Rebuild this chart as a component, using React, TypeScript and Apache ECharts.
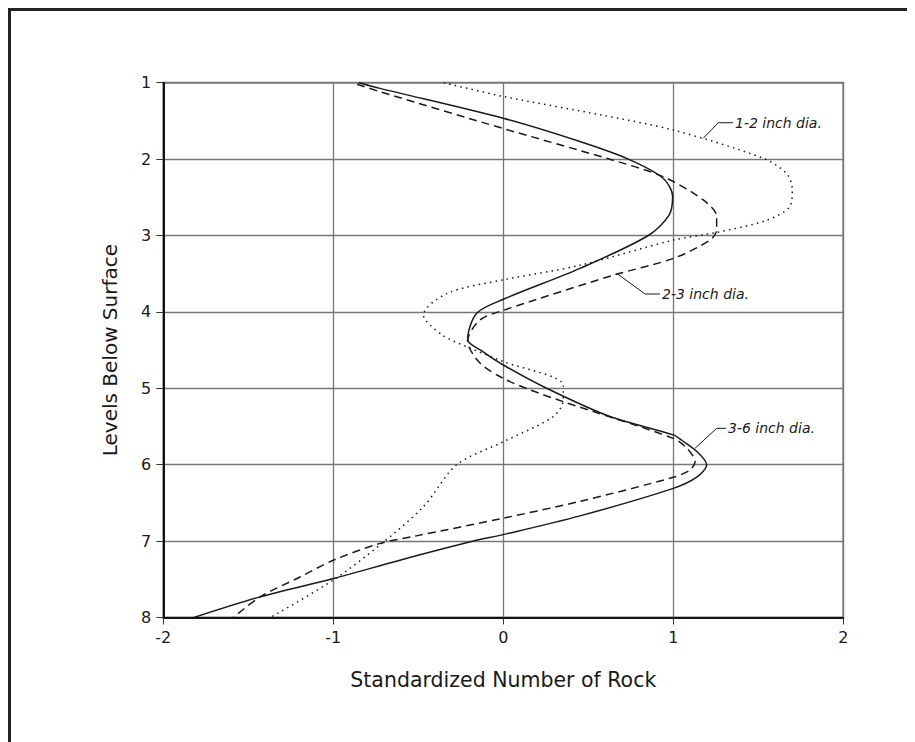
import React, { useEffect, useRef } from "react";
import * as echarts from "echarts";

// Each point: [standardized number of rock, level below surface]
const rock12: number[][] = [
  [-0.35, 1.0], [0, 1.18], [0.569, 1.42], [1.0, 1.62], [1.53, 1.99], [1.667, 2.19],
  [1.7, 2.4], [1.686, 2.62], [1.55, 2.8], [1.255, 2.96], [1.0, 3.06], [0.451, 3.39],
  [0, 3.58], [-0.333, 3.76], [-0.47, 4.04], [-0.36, 4.3], [-0.2, 4.47], [0, 4.65],
  [0.353, 4.96], [0.353, 5.15], [0.294, 5.37], [0, 5.7], [-0.274, 6.0], [-0.47, 6.55],
  [-0.725, 7.05], [-1.0, 7.51], [-1.37, 8.0],
];
const rock23: number[][] = [
  [-0.86, 1.02], [-0.725, 1.118], [0, 1.6], [0.608, 1.99], [0.94, 2.23], [1.176, 2.535],
  [1.255, 2.75], [1.255, 2.93], [1.216, 3.06], [1.0, 3.3], [0.647, 3.52], [0, 3.98],
  [-0.137, 4.106], [-0.21, 4.38], [-0.137, 4.67], [0, 4.87], [0.157, 5.02], [0.353, 5.175],
  [1.0, 5.655], [1.08, 5.785], [1.128, 5.96], [1.098, 6.07], [1.0, 6.165], [0.451, 6.48],
  [0, 6.7], [-0.53, 6.94], [-0.725, 7.03], [-1.0, 7.25], [-1.196, 7.47], [-1.43, 7.73],
  [-1.588, 8.0],
];
const rock36: number[][] = [
  [-0.85, 1.0], [-0.725, 1.074], [0, 1.466], [0.45, 1.77], [0.735, 2.0], [0.94, 2.25],
  [0.996, 2.49], [0.976, 2.73], [0.853, 3.0], [0.451, 3.43], [0, 3.835], [-0.157, 4.018],
  [-0.21, 4.36], [-0.12, 4.52], [0, 4.695], [0.255, 5.0], [0.627, 5.37], [1.0, 5.61],
  [1.05, 5.68], [1.14, 5.83], [1.196, 6.0], [1.14, 6.16], [1.0, 6.31], [0.451, 6.67],
  [0, 6.915], [-0.176, 7.0], [-0.608, 7.25], [-1.0, 7.49], [-1.43, 7.73], [-1.82, 8.0],
];

const seriesNames = ["1-2 inch dia.", "2-3 inch dia.", "3-6 inch dia."];

// Leader lines for the annotations (data coordinates)
const leader12: number[][] = [[1.176, 1.728], [1.265, 1.524], [1.351, 1.524]];
const leader23: number[][] = [[0.667, 3.495], [0.834, 3.766], [0.922, 3.766]];
const leader36: number[][] = [[1.128, 5.785], [1.255, 5.524], [1.31, 5.524]];

const xAxisTitle = "Standardized Number of Rock";
const yAxisTitle = "Levels Below Surface";

const FONT = "DejaVu Sans";
const INK = "#1a1a1a";

export default function App() {
  const ref = useRef<HTMLDivElement>(null);

  useEffect(() => {
    document.documentElement.style.overflow = "hidden";
    document.body.style.overflow = "hidden";
    if (!ref.current) return;
    const chart = echarts.init(ref.current, undefined, { renderer: "svg" });

    const curve = (name: string, data: number[][], type: any) => ({
      name,
      type: "line",
      data,
      smooth: 0.3,
      showSymbol: false,
      symbol: "none",
      lineStyle: { color: INK, width: 1.5, type },
      z: 3,
    });

    const leader = (label: string, data: number[][]) => ({
      name: label + " leader",
      type: "line",
      data,
      smooth: false,
      showSymbol: false,
      symbol: "none",
      lineStyle: { color: INK, width: 1, type: "solid" },
      endLabel: {
        show: true,
        formatter: label,
        distance: 2,
        fontFamily: FONT,
        fontStyle: "italic",
        fontSize: 14,
        color: INK,
      },
      z: 4,
    });

    chart.setOption({
      animation: false,
      grid: {
        left: 152.3,
        right: 63.7,
        top: 71.7,
        bottom: 116.5,
        show: true,
        borderColor: "#444",
        borderWidth: 1.5,
      },
      xAxis: {
        type: "value",
        min: -2,
        max: 2,
        interval: 1,
        name: xAxisTitle,
        nameLocation: "middle",
        nameGap: 52,
        nameTextStyle: { fontFamily: FONT, fontSize: 20.5, color: INK },
        axisLine: { show: true, onZero: false, lineStyle: { color: "#111", width: 2 } },
        axisTick: { show: true, length: 7, lineStyle: { color: "#333", width: 1 } },
        axisLabel: { margin: 12, fontFamily: FONT, fontSize: 16, color: INK },
        splitLine: { show: true, lineStyle: { color: "#777", width: 1.3 } },
      },
      yAxis: {
        type: "value",
        inverse: true,
        min: 1,
        max: 8,
        interval: 1,
        name: yAxisTitle,
        nameLocation: "middle",
        nameRotate: 90,
        nameGap: 43,
        nameTextStyle: { fontFamily: FONT, fontSize: 20, color: INK },
        axisLine: { show: true, onZero: false, lineStyle: { color: "#111", width: 2 } },
        axisTick: { show: true, length: 7, lineStyle: { color: "#333", width: 1 } },
        axisLabel: { margin: 12, fontFamily: FONT, fontSize: 16, color: INK },
        splitLine: { show: true, lineStyle: { color: "#777", width: 1.3 } },
      },
      series: [
        curve(seriesNames[0], rock12, [1.5, 4.2]),
        curve(seriesNames[1], rock23, [8, 5]),
        curve(seriesNames[2], rock36, "solid"),
        leader(seriesNames[0], leader12),
        leader(seriesNames[1], leader23),
        leader(seriesNames[2], leader36),
      ],
    });

    return () => chart.dispose();
  }, []);

  return (
    <div
      style={{
        width: 1000,
        height: 900,
        boxSizing: "border-box",
        borderTop: "3px solid #222",
        borderLeft: "3px solid #222",
        background: "#fff",
      }}
    >
      <div ref={ref} style={{ width: 896, height: 723 }} />
    </div>
  );
}
